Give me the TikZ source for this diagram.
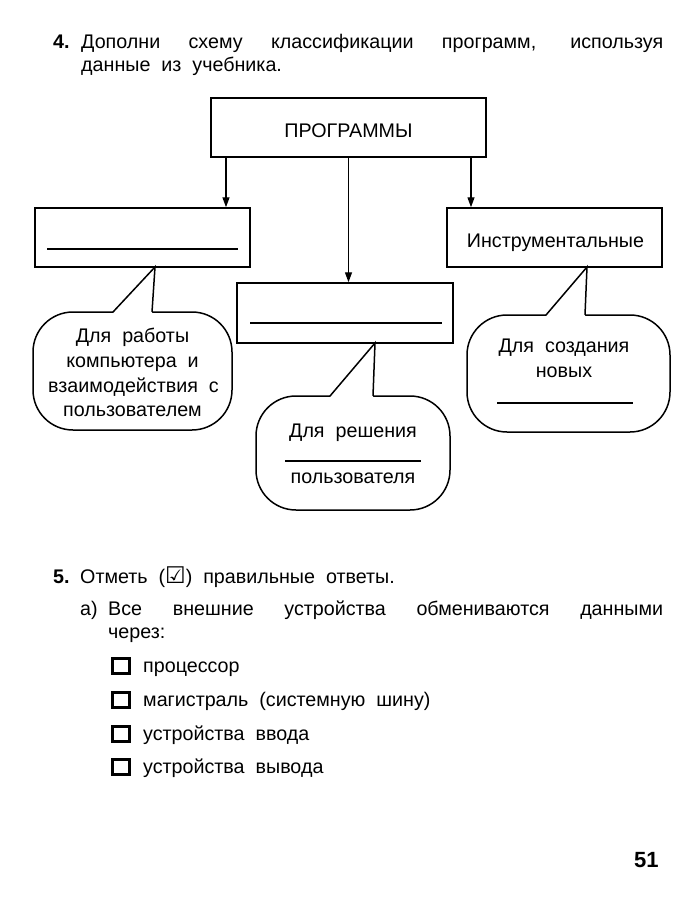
\documentclass[tikz,border=0pt]{standalone}
\usepackage{fontspec}
\setmainfont{Liberation Sans}
\newfontfamily\symfont{DejaVu Sans}
\usetikzlibrary{arrows.meta}
\begin{document}
\begin{tikzpicture}[x=1pt,y=-1pt,
  txt/.style={font=\fontsize{19.7}{25}\selectfont, inner sep=0pt, anchor=base west},
  ctxt/.style={font=\fontsize{19.7}{25}\selectfont, inner sep=0pt, anchor=base},
  bx/.style={draw, line width=1.5pt, rectangle, inner sep=0pt},
  bub/.style={draw, line width=1.5pt, rectangle, rounded corners=40pt, inner sep=0pt},
  arr/.style={line width=1.3pt, -{Triangle[length=10pt,width=7pt]}},
  ptr/.style={line width=1.5pt, line join=miter},
  blank/.style={line width=1.5pt},
  chk/.style={draw, line width=2.8pt, inner sep=0pt, minimum width=17pt, minimum height=15pt}
]
\fill[white] (0,0) rectangle (700,902);
\useasboundingbox (0,0) rectangle (700,902);

% ---- task 4 header
\node[txt, font=\fontsize{19.7}{25}\selectfont\bfseries] (n4) at (53,48) {4.};
\node[txt] (h1) at (81,48) {\makebox[582pt][s]{Дополни схему классификации программ, используя}};
\node[txt] (h2) at (81,71) {данные\ \ из\ \ учебника.};

% ---- boxes
\node[bx, minimum width=275pt, minimum height=59pt] (prog) at (348.5,127.5) {};
\node[ctxt] (progt) at (348.5,137) {ПРОГРАММЫ};
\node[bx, minimum width=215pt, minimum height=59pt] (lbox) at (142.5,237.5) {};
\node[bx, minimum width=216pt, minimum height=60pt] (mbox) at (345,313) {};
\node[bx, minimum width=215pt, minimum height=59pt] (rbox) at (554.5,237.5) {};
\node[ctxt] (rboxt) at (555.5,247) {Инструментальные};

% blanks in boxes
\coordinate (lb1) at (47,249); \coordinate (lb2) at (238,249);
\draw[blank] (lb1) -- (lb2);
\coordinate (mb1) at (250,323); \coordinate (mb2) at (442,323);
\draw[blank] (mb1) -- (mb2);

% arrows
\coordinate (a1) at (226,0);
\coordinate (a3) at (471,0);
\draw[arr] (prog.south -| a1) -- (lbox.north -| a1);
\draw[arr] (prog.south) -- (prog.south |- mbox.north);
\draw[arr] (prog.south -| a3) -- (rbox.north -| a3);

% ---- bubbles
\node[bub, minimum width=199pt, minimum height=118pt] (b1) at (132.5,371) {};
\node[bub, minimum width=194pt, minimum height=114pt] (b2) at (353,453) {};
\node[bub, minimum width=203pt, minimum height=117pt] (b3) at (568.5,373.5) {};

% pointers
\coordinate (t1) at (155,267); \coordinate (p1a) at (113,312); \coordinate (p1b) at (152,312);
\fill[white] ([yshift=-1.2pt]p1a) -- (t1) -- ([yshift=-1.2pt]p1b) -- cycle;
\draw[ptr] (p1a) -- (t1) -- (p1b);
\coordinate (t2) at (375,343); \coordinate (p2a) at (330,396); \coordinate (p2b) at (373,396);
\fill[white] ([yshift=-1.2pt]p2a) -- (t2) -- ([yshift=-1.2pt]p2b) -- cycle;
\draw[ptr] (p2a) -- (t2) -- (p2b);
\coordinate (t3) at (587,267); \coordinate (p3a) at (546,315); \coordinate (p3b) at (585,315);
\fill[white] ([yshift=-1.2pt]p3a) -- (t3) -- ([yshift=-1.2pt]p3b) -- cycle;
\draw[ptr] (p3a) -- (t3) -- (p3b);

% bubble texts
\node[ctxt] (b1l1) at (132.5,342) {Для\ \ работы};
\node[ctxt] (b1l2) at (132.5,367) {компьютера\ \ и};
\node[ctxt] (b1l3) at (133.5,392) {взаимодействия\ \ с};
\node[ctxt] (b1l4) at (132.5,416) {пользователем};

\node[ctxt] (b2l1) at (353,437) {Для\ \ решения};
\coordinate (bb1) at (285,461); \coordinate (bb2) at (421,461);
\draw[blank] (bb1) -- (bb2);
\node[ctxt] (b2l2) at (353,483) {пользователя};

\node[ctxt] (b3l1) at (564,352) {Для\ \ создания};
\node[ctxt] (b3l2) at (564,377) {новых};
\coordinate (cb1) at (497,403); \coordinate (cb2) at (633,403);
\draw[blank] (cb1) -- (cb2);

% ---- task 5
\node[txt, font=\fontsize{19.7}{25}\selectfont\bfseries] (n5) at (53,583) {5.};
\node[txt] (q1) at (80,583) {Отметь\ \ ({\symfont\fontsize{23}{25}\selectfont\bfseries ☑})\ \ правильные\ \ ответы.};
\node[txt] (qa) at (80,615) {а)};
\node[txt] (qa1) at (108,615) {\makebox[555pt][s]{Все внешние устройства обмениваются данными}};
\node[txt] (qa2) at (108,638) {через:};

\node[chk] (c1) at (121,666) {};
\node[txt] (o1) at (143,672) {процессор};
\node[chk] (c2) at (121,700) {};
\node[txt] (o2) at (143,706) {магистраль\ \ (системную\ \ шину)};
\node[chk] (c3) at (121,734) {};
\node[txt] (o3) at (143,740) {устройства\ \ ввода};
\node[chk] (c4) at (121,767) {};
\node[txt] (o4) at (143,773) {устройства\ \ вывода};

% page number
\node[txt, font=\fontsize{22}{26}\selectfont\bfseries] (pg) at (634,867) {51};
\end{tikzpicture}
\end{document}
